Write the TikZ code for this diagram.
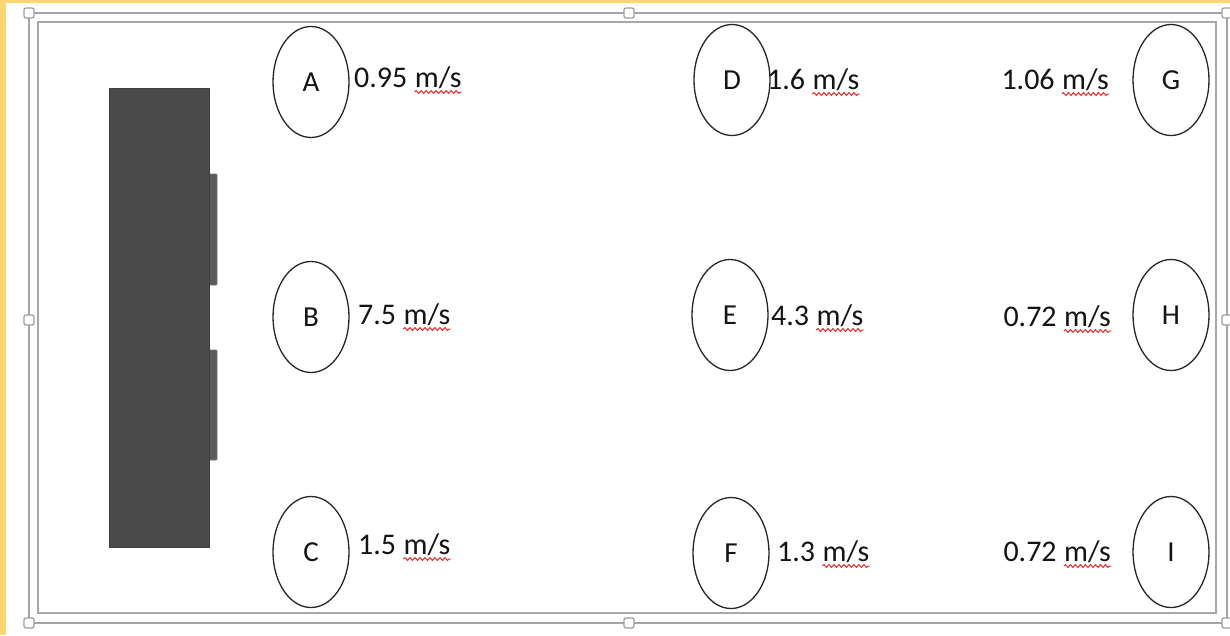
\documentclass[tikz,border=0pt]{standalone}
\usepackage{fontspec}
\setmainfont{Carlito}
\usetikzlibrary{shapes.geometric,decorations.pathmorphing}
\definecolor{selyellow}{RGB}{252,214,110}
\definecolor{framegray}{RGB}{165,165,165}
\definecolor{innergray}{RGB}{168,168,168}
\definecolor{boxdark}{RGB}{74,74,74}
\definecolor{spellred}{RGB}{232,40,40}
\definecolor{txt}{RGB}{20,20,20}
\begin{document}
\begin{tikzpicture}[x=1pt,y=-1pt,
  point/.style={ellipse, draw=black!85, line width=1.3pt, fill=white,
    minimum width=76pt, minimum height=111pt, inner sep=0pt,
    font=\fontsize{29}{32}\selectfont, text=txt},
  num/.style={inner sep=0pt, font=\fontsize{30}{33}\selectfont, text=txt},
  squig/.style={draw=spellred, line width=1pt, decorate,
    decoration={snake, amplitude=1.4pt, segment length=5pt}},
  handle/.style={draw=gray!75, fill=white, line width=1.3pt, rounded corners=2pt,
    minimum size=10pt, inner sep=0pt},
  tabbox/.style={draw=gray!90!black, fill=boxdark!90!white, line width=0.8pt, rounded corners=1pt},
  block/.style={fill=boxdark, draw=black!75, line width=0.8pt}
]
\useasboundingbox (0,0) rectangle (1230,635);
\fill[white] (0,0) rectangle (1230,635);
\fill[selyellow] (0,0) rectangle (6,635);
\fill[selyellow] (0,0) rectangle (1230,3);
% selection frame and inner rectangle
\draw[framegray, line width=1.8pt] (29,13) rectangle (1227,623);
\draw[innergray, line width=2.6pt] (38,22) rectangle (1216,613);
% handles
\node[handle] (h1) at (29,13) {};
\node[handle] (h2) at (629,13) {};
\node[handle] (h3) at (1227,13) {};
\node[handle] (h4) at (29,320) {};
\node[handle] (h5) at (1227,320) {};
\node[handle] (h6) at (29,623) {};
\node[handle] (h7) at (629,623) {};
\node[handle] (h8) at (1227,623) {};
% dark block with tabs
\draw[tabbox] (206,174) rectangle (217,285);
\draw[tabbox] (206,350) rectangle (217,460);
\draw[block] (109,88) rectangle (209,547);
% points
\node[point] (A) at (311,82) {A};
\node[point] (B) at (311,317) {B};
\node[point] (C) at (311,552) {C};
\node[point] (D) at (732,80) {D};
\node[point] (E) at (730,315) {E};
\node[point] (F) at (731,553) {F};
\node[point] (G) at (1171,80) {G};
\node[point] (H) at (1171,315) {H};
\node[point] (I) at (1171,552) {I};
% speeds, left column
\node[num, anchor=base west] (vA) at (354,87) {0.95};
\node[num, anchor=base west] (uA) at ([xshift=7pt]vA.base east) {m/s};
\node[num, anchor=base west] (vB) at (358,324) {7.5};
\node[num, anchor=base west] (uB) at ([xshift=7pt]vB.base east) {m/s};
\node[num, anchor=base west] (vC) at (358,554) {1.5};
\node[num, anchor=base west] (uC) at ([xshift=7pt]vC.base east) {m/s};
% middle column
\node[num, anchor=base west] (vD) at (767,89) {1.6};
\node[num, anchor=base west] (uD) at ([xshift=7pt]vD.base east) {m/s};
\node[num, anchor=base west] (vE) at (771,325) {4.3};
\node[num, anchor=base west] (uE) at ([xshift=7pt]vE.base east) {m/s};
\node[num, anchor=base west] (vF) at (777,561) {1.3};
\node[num, anchor=base west] (uF) at ([xshift=7pt]vF.base east) {m/s};
% right column
\node[num, anchor=base east] (uG) at (1109,89) {m/s};
\node[num, anchor=base east] (vG) at ([xshift=-7pt]uG.base west) {1.06};
\node[num, anchor=base east] (uH) at (1111,326) {m/s};
\node[num, anchor=base east] (vH) at ([xshift=-7pt]uH.base west) {0.72};
\node[num, anchor=base east] (uI) at (1111,561) {m/s};
\node[num, anchor=base east] (vI) at ([xshift=-7pt]uI.base west) {0.72};
% spell-check squiggles
\foreach \u in {uA,uB,uC,uD,uE,uF,uG,uH,uI}
  \draw[squig] ([yshift=-5pt]\u.base west) -- ([yshift=-5pt]\u.base east);
\end{tikzpicture}
\end{document}
